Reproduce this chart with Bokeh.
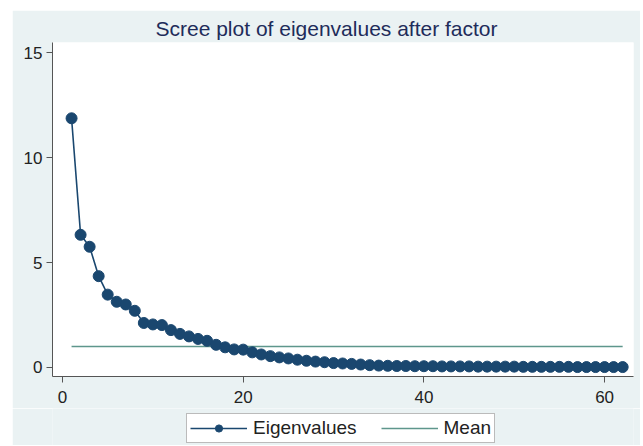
from bokeh.plotting import figure
from bokeh.layouts import column
from bokeh.models import Legend, LegendItem, Range1d, FixedTicker
from bokeh.embed import file_html
from bokeh.resources import INLINE

factors = list(range(1, 63))
eigenvalues = [11.87, 6.32, 5.75, 4.35, 3.47, 3.13, 3.00, 2.70, 2.12, 2.05,
               2.02, 1.78, 1.60, 1.48, 1.36, 1.27, 1.08, 0.96, 0.86, 0.85,
               0.72, 0.62, 0.54, 0.48, 0.43, 0.37, 0.32, 0.28, 0.25, 0.21,
               0.19, 0.17, 0.14, 0.11, 0.09, 0.08, 0.07, 0.07, 0.06, 0.06,
               0.06, 0.05, 0.05, 0.05, 0.05, 0.04, 0.04, 0.04, 0.04, 0.04,
               0.03, 0.03, 0.03, 0.03, 0.03, 0.03, 0.02, 0.02, 0.02, 0.02,
               0.02, 0.02]
mean_value = 1.0
x_ticks = [0, 20, 40, 60]
y_ticks = [0, 5, 10, 15]
title_text = "Scree plot of eigenvalues after factor"

NAVY = "#1a476f"
TEAL = "#5e968c"
BG = "#eaf2f3"
FONT = "Liberation Sans"

p = figure(width=628, height=398, output_backend="svg", toolbar_location=None,
           x_range=Range1d(-1.11, 63.2), y_range=Range1d(-0.43, 15.48),
           min_border_left=40, min_border_right=7, min_border_top=32,
           min_border_bottom=32)
p.background_fill_color = "white"
p.border_fill_color = BG
p.outline_line_color = None
p.grid.visible = False

p.title.text = title_text
p.title.align = "left"
p.title.offset = 103
p.title.text_font = FONT
p.title.text_font_size = "21px"
p.title.text_font_style = "normal"
p.title.text_color = "#1e2c5a"
p.title.standoff = 6

for ax in (p.xaxis[0], p.yaxis[0]):
    ax.major_label_text_font = FONT
    ax.major_label_text_font_size = "17px"
    ax.major_label_text_color = "#222222"
    ax.axis_line_color = "#555555"
    ax.major_tick_line_color = "#555555"
    ax.major_tick_out = 6
    ax.major_tick_in = 0
    ax.minor_tick_line_color = None
p.xaxis[0].ticker = FixedTicker(ticks=x_ticks)
p.yaxis[0].ticker = FixedTicker(ticks=y_ticks)
p.yaxis[0].major_label_orientation = "horizontal"
p.xaxis[0].major_label_standoff = 8
p.yaxis[0].major_label_standoff = 4

mean_line = p.line([factors[0], factors[-1]], [mean_value, mean_value],
                   line_color=TEAL, line_width=1.5)
eig_line = p.line(factors, eigenvalues, line_color=NAVY, line_width=1.6)
eig_pts = p.scatter(factors, eigenvalues, size=11, fill_color=NAVY,
                    line_color=NAVY)

# legend strip below the chart (its renderers sit outside the visible range)
lg = figure(width=628, height=37, output_backend="svg", toolbar_location=None,
            x_axis_location=None, y_axis_location=None,
            x_range=Range1d(0, 1), y_range=Range1d(0, 1),
            min_border_left=0, min_border_right=0, min_border_top=0,
            min_border_bottom=0)
lg.background_fill_color = BG
lg.border_fill_color = BG
lg.outline_line_color = None
lg.grid.visible = False
l1 = lg.line([5, 6], [5, 6], line_color=NAVY, line_width=1.6)
l2 = lg.scatter([5], [5], size=10, fill_color=NAVY, line_color=NAVY)
l3 = lg.line([5, 6], [5, 6], line_color=TEAL, line_width=1.5)

legend = Legend(items=[LegendItem(label="Eigenvalues", renderers=[l1, l2]),
                       LegendItem(label="Mean", renderers=[l3])],
                orientation="horizontal", location=(134, 2),
                label_text_font=FONT, label_text_font_size="19px",
                label_text_color="#222222", glyph_width=57, glyph_height=18,
                label_height=18, label_standoff=6, spacing=24, padding=3,
                margin=0, border_line_color="#777777",
                background_fill_color="white", background_fill_alpha=1.0)
lg.add_layout(legend, "center")

layout = column(p, lg, spacing=0,
                styles={"margin-left": "12px", "margin-top": "10px"})
open("out.html", "w").write(file_html(layout, INLINE))
